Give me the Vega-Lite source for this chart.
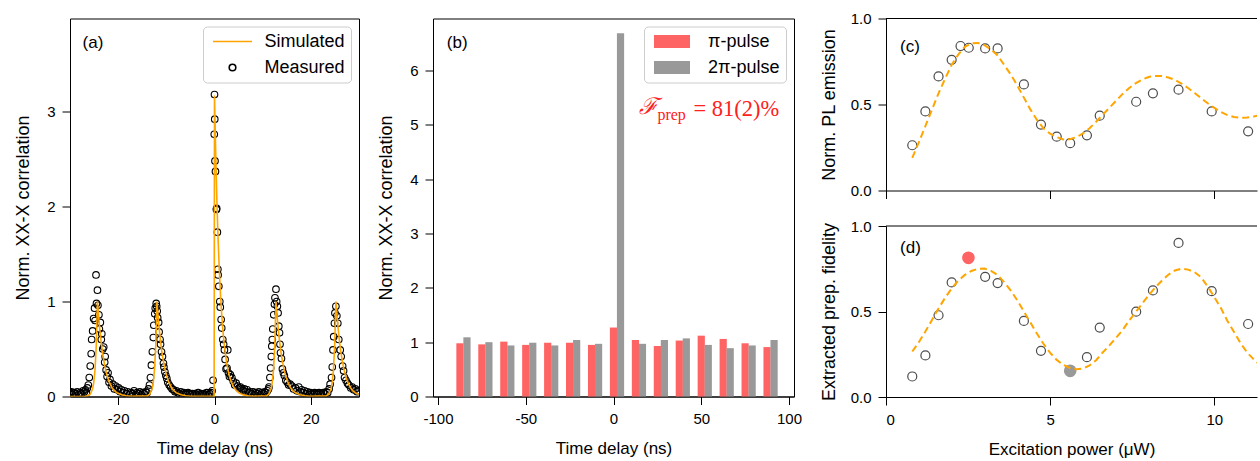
{
  "$schema": "https://vega.github.io/schema/vega-lite/v6.json",
  "padding": {"left": 14, "top": 11.5, "right": 0, "bottom": 0},
  "spacing": 17,
  "resolve": {"scale": {"color": "independent", "shape": "independent"}, "legend": {"color": "independent", "shape": "independent"}},
  "config": {
    "font": "Liberation Sans",
    "view": {"stroke": "black", "strokeWidth": 1},
    "axis": {"labelFont": "Liberation Sans", "titleFont": "Liberation Sans", "labelFontSize": 15, "titleFontSize": 17, "titleFontWeight": "normal", "labelColor": "black", "titleColor": "black", "tickColor": "black", "domainColor": "black", "tickSize": 8, "labelPadding": 7, "titlePadding": 14, "grid": false, "tickWidth": 1, "domainWidth": 1},
    "axisY": {"titleFontSize": 18},
    "legend": {"labelFont": "Liberation Sans", "labelFontSize": 18, "labelColor": "black"},
    "text": {"font": "Liberation Sans", "color": "black"}
  },
  "datasets": {
    "meas": [
      {"t":-30,"v":0.04},{"t":-29.7,"v":0.05},{"t":-29.4,"v":0.02},{"t":-29.1,"v":0.04},{"t":-28.8,"v":0.03},{"t":-28.5,"v":0.05},{"t":-28.2,"v":0.02},{"t":-27.9,"v":0.04},{"t":-27.6,"v":0.03},{"t":-27.3,"v":0.06},
      {"t":-27.0,"v":0.05},{"t":-26.8,"v":0.07},{"t":-26.6,"v":0.04},{"t":-26.4,"v":0.09},{"t":-26.2,"v":0.12},{"t":-26.0,"v":0.2},{"t":-25.8,"v":0.32},{"t":-25.6,"v":0.45},{"t":-25.5,"v":0.6},{"t":-25.3,"v":0.69},{"t":-25.1,"v":0.82},{"t":-24.9,"v":0.93},{"t":-24.8,"v":0.8},{"t":-24.6,"v":1.28},{"t":-24.5,"v":0.98},{"t":-24.3,"v":1.12},{"t":-24.2,"v":0.96},{"t":-24.0,"v":0.86},{"t":-23.9,"v":0.71},{"t":-23.7,"v":0.78},{"t":-23.5,"v":0.6},{"t":-23.4,"v":0.66},{"t":-23.2,"v":0.5},{"t":-23.0,"v":0.52},{"t":-22.8,"v":0.36},{"t":-22.7,"v":0.42},{"t":-22.5,"v":0.28},{"t":-22.3,"v":0.21},{"t":-22.1,"v":0.25},{"t":-21.9,"v":0.15},{"t":-21.7,"v":0.18},{"t":-21.4,"v":0.11},{"t":-21.1,"v":0.13},{"t":-20.8,"v":0.08},{"t":-20.5,"v":0.11},{"t":-20.2,"v":0.07},{"t":-19.9,"v":0.09},{"t":-19.6,"v":0.05},{"t":-19.3,"v":0.07},{"t":-19.0,"v":0.04},{"t":-18.7,"v":0.06},{"t":-18.3,"v":0.03},{"t":-18.0,"v":0.05},{"t":-17.6,"v":0.02},{"t":-17.3,"v":0.04},{"t":-17.0,"v":0.03},{"t":-16.7,"v":0.06},{"t":-16.4,"v":0.02},{"t":-16.1,"v":0.04},{"t":-15.8,"v":0.03},{"t":-15.5,"v":0.05},{"t":-15.2,"v":0.02},{"t":-14.9,"v":0.04},{"t":-14.6,"v":0.03},
      {"t":-14.3,"v":0.05},{"t":-14.0,"v":0.04},{"t":-13.7,"v":0.08},{"t":-13.5,"v":0.12},{"t":-13.3,"v":0.2},{"t":-13.1,"v":0.33},{"t":-12.9,"v":0.47},{"t":-12.7,"v":0.62},{"t":-12.6,"v":0.75},{"t":-12.4,"v":0.87},{"t":-12.3,"v":0.93},{"t":-12.1,"v":0.98},{"t":-12.0,"v":0.95},{"t":-11.9,"v":0.9},{"t":-11.8,"v":0.83},{"t":-11.6,"v":0.78},{"t":-11.5,"v":0.68},{"t":-11.3,"v":0.6},{"t":-11.2,"v":0.55},{"t":-11.0,"v":0.47},{"t":-10.8,"v":0.42},{"t":-10.6,"v":0.35},{"t":-10.5,"v":0.31},{"t":-10.3,"v":0.26},{"t":-10.1,"v":0.22},{"t":-9.9,"v":0.19},{"t":-9.7,"v":0.15},{"t":-9.4,"v":0.12},{"t":-9.1,"v":0.1},{"t":-8.8,"v":0.08},{"t":-8.5,"v":0.07},{"t":-8.2,"v":0.05},{"t":-7.9,"v":0.06},{"t":-7.6,"v":0.04},{"t":-7.3,"v":0.03},{"t":-7.0,"v":0.05},{"t":-6.7,"v":0.02},{"t":-6.4,"v":0.04},{"t":-6.1,"v":0.03},{"t":-5.8,"v":0.02},{"t":-5.5,"v":0.04},{"t":-5.2,"v":0.03},{"t":-4.9,"v":0.02},{"t":-4.6,"v":0.03},{"t":-4.3,"v":0.02},{"t":-4.0,"v":0.03},{"t":-3.7,"v":0.02},{"t":-3.4,"v":0.04},{"t":-3.1,"v":0.02},{"t":-2.8,"v":0.03},{"t":-2.5,"v":0.02},{"t":-2.2,"v":0.03},{"t":-1.9,"v":0.02},{"t":-1.6,"v":0.04},{"t":-1.3,"v":0.02},{"t":-1.0,"v":0.03},{"t":-0.7,"v":0.04},{"t":-0.5,"v":0.06},{"t":-0.3,"v":0.17},
      {"t":-0.05,"v":2.76},{"t":0.0,"v":3.18},{"t":0.05,"v":2.92},{"t":0.1,"v":2.48},{"t":0.2,"v":2.37},{"t":0.4,"v":1.97},{"t":0.45,"v":1.98},{"t":0.6,"v":1.73},{"t":0.7,"v":1.34},{"t":0.75,"v":1.28},{"t":0.9,"v":1.16},{"t":1.1,"v":1.0},{"t":1.2,"v":0.94},{"t":1.38,"v":0.81},{"t":1.5,"v":0.72},{"t":1.72,"v":0.6},{"t":1.9,"v":0.55},{"t":2.06,"v":0.49},{"t":2.2,"v":0.39},{"t":2.4,"v":0.29},{"t":2.6,"v":0.3},{"t":2.75,"v":0.49},{"t":2.9,"v":0.25},{"t":3.1,"v":0.21},{"t":3.3,"v":0.23},{"t":3.6,"v":0.2},{"t":3.9,"v":0.16},{"t":4.2,"v":0.12},{"t":4.5,"v":0.14},{"t":4.8,"v":0.11},{"t":5.1,"v":0.09},{"t":5.4,"v":0.1},{"t":5.7,"v":0.08},{"t":6.0,"v":0.06},{"t":6.2,"v":0.08},{"t":6.5,"v":0.05},{"t":6.8,"v":0.07},{"t":7.1,"v":0.04},{"t":7.4,"v":0.05},{"t":7.7,"v":0.03},{"t":8.0,"v":0.05},{"t":8.3,"v":0.02},{"t":8.6,"v":0.04},{"t":8.9,"v":0.03},{"t":9.2,"v":0.05},{"t":9.5,"v":0.02},{"t":9.8,"v":0.04},{"t":10.1,"v":0.03},{"t":10.4,"v":0.05},{"t":10.7,"v":0.04},
      {"t":11.0,"v":0.06},{"t":11.2,"v":0.08},{"t":11.3,"v":0.1},{"t":11.5,"v":0.2},{"t":11.65,"v":0.3},{"t":11.8,"v":0.42},{"t":11.9,"v":0.53},{"t":12.0,"v":0.6},{"t":12.1,"v":0.71},{"t":12.3,"v":0.86},{"t":12.45,"v":0.97},{"t":12.55,"v":1.04},{"t":12.76,"v":1.13},{"t":12.9,"v":1.0},{"t":13.05,"v":0.95},{"t":13.2,"v":0.88},{"t":13.35,"v":0.74},{"t":13.5,"v":0.67},{"t":13.6,"v":0.55},{"t":13.7,"v":0.46},{"t":13.9,"v":0.4},{"t":14.1,"v":0.29},{"t":14.3,"v":0.25},{"t":14.5,"v":0.22},{"t":14.8,"v":0.17},{"t":15.1,"v":0.15},{"t":15.4,"v":0.12},{"t":15.7,"v":0.13},{"t":16.1,"v":0.11},{"t":16.4,"v":0.08},{"t":16.8,"v":0.09},{"t":17.1,"v":0.06},{"t":17.5,"v":0.1},{"t":17.8,"v":0.05},{"t":18.1,"v":0.07},{"t":18.4,"v":0.04},{"t":18.7,"v":0.06},{"t":19.0,"v":0.03},{"t":19.3,"v":0.05},{"t":19.6,"v":0.02},{"t":19.9,"v":0.04},{"t":20.2,"v":0.03},{"t":20.5,"v":0.02},{"t":20.8,"v":0.04},{"t":21.1,"v":0.03},{"t":21.4,"v":0.02},{"t":21.7,"v":0.04},{"t":22.0,"v":0.03},{"t":22.3,"v":0.02},{"t":22.6,"v":0.04},{"t":22.9,"v":0.03},
      {"t":23.2,"v":0.05},{"t":23.5,"v":0.04},{"t":23.8,"v":0.08},{"t":24.0,"v":0.13},{"t":24.3,"v":0.2},{"t":24.45,"v":0.31},{"t":24.6,"v":0.49},{"t":24.75,"v":0.63},{"t":24.9,"v":0.77},{"t":25.0,"v":0.88},{"t":25.2,"v":0.95},{"t":25.4,"v":0.85},{"t":25.6,"v":0.77},{"t":25.8,"v":0.6},{"t":26.1,"v":0.49},{"t":26.3,"v":0.42},{"t":26.6,"v":0.32},{"t":26.8,"v":0.27},{"t":27.0,"v":0.2},{"t":27.3,"v":0.17},{"t":27.6,"v":0.14},{"t":27.9,"v":0.12},{"t":28.3,"v":0.09},{"t":28.6,"v":0.1},{"t":28.9,"v":0.07},{"t":29.3,"v":0.08},{"t":29.6,"v":0.05},{"t":29.9,"v":0.06}
    ],
    "sim": [
      {"t":-30,"v":0.0},{"t":-27,"v":0.0},{"t":-26.3,"v":0.007},{"t":-25.8,"v":0.024},{"t":-25.3,"v":0.082},{"t":-25.05,"v":0.153},{"t":-24.8,"v":0.287},{"t":-24.55,"v":0.535},{"t":-24.3,"v":1.0},{"t":-24.05,"v":0.84},{"t":-23.8,"v":0.7},{"t":-23.55,"v":0.58},{"t":-23.3,"v":0.48},{"t":-23.05,"v":0.4},{"t":-22.8,"v":0.33},{"t":-22.55,"v":0.27},{"t":-22.3,"v":0.22},{"t":-21.8,"v":0.145},{"t":-21.3,"v":0.095},{"t":-20.8,"v":0.062},{"t":-20.3,"v":0.041},{"t":-19.3,"v":0.018},{"t":-18.3,"v":0.008},{"t":-17.3,"v":0.003},
      {"t":-13.95,"v":0.007},{"t":-13.45,"v":0.024},{"t":-12.95,"v":0.082},{"t":-12.7,"v":0.153},{"t":-12.45,"v":0.287},{"t":-12.2,"v":0.535},{"t":-11.95,"v":1.0},{"t":-11.7,"v":0.84},{"t":-11.45,"v":0.7},{"t":-11.2,"v":0.58},{"t":-10.95,"v":0.48},{"t":-10.7,"v":0.4},{"t":-10.45,"v":0.33},{"t":-10.2,"v":0.27},{"t":-9.95,"v":0.22},{"t":-9.45,"v":0.145},{"t":-8.95,"v":0.095},{"t":-8.45,"v":0.062},{"t":-7.95,"v":0.041},{"t":-6.95,"v":0.018},{"t":-5.95,"v":0.008},{"t":-4.95,"v":0.003},{"t":-0.08,"v":0.002},
      {"t":0,"v":3.17},{"t":0.25,"v":2.56},{"t":0.5,"v":2.05},{"t":0.75,"v":1.65},{"t":1.0,"v":1.33},{"t":1.25,"v":1.07},{"t":1.5,"v":0.86},{"t":1.75,"v":0.69},{"t":2.0,"v":0.557},{"t":2.5,"v":0.36},{"t":3.0,"v":0.234},{"t":3.5,"v":0.151},{"t":4.0,"v":0.098},{"t":4.5,"v":0.063},{"t":5.0,"v":0.041},{"t":6.0,"v":0.017},{"t":7.0,"v":0.007},{"t":8.0,"v":0.003},
      {"t":10.76,"v":0.007},{"t":11.26,"v":0.024},{"t":11.76,"v":0.082},{"t":12.01,"v":0.153},{"t":12.26,"v":0.287},{"t":12.51,"v":0.535},{"t":12.76,"v":1.0},{"t":13.01,"v":0.84},{"t":13.26,"v":0.7},{"t":13.51,"v":0.58},{"t":13.76,"v":0.48},{"t":14.01,"v":0.4},{"t":14.26,"v":0.33},{"t":14.51,"v":0.27},{"t":14.76,"v":0.22},{"t":15.26,"v":0.145},{"t":15.76,"v":0.095},{"t":16.26,"v":0.062},{"t":16.76,"v":0.041},{"t":17.76,"v":0.018},{"t":18.76,"v":0.008},{"t":19.76,"v":0.003},
      {"t":23.2,"v":0.007},{"t":23.7,"v":0.024},{"t":24.2,"v":0.082},{"t":24.45,"v":0.153},{"t":24.7,"v":0.287},{"t":24.95,"v":0.535},{"t":25.2,"v":1.0},{"t":25.45,"v":0.84},{"t":25.7,"v":0.7},{"t":25.95,"v":0.58},{"t":26.2,"v":0.48},{"t":26.45,"v":0.4},{"t":26.7,"v":0.33},{"t":26.95,"v":0.27},{"t":27.2,"v":0.22},{"t":27.7,"v":0.145},{"t":28.2,"v":0.095},{"t":28.7,"v":0.062},{"t":29.2,"v":0.041},{"t":30,"v":0.02}
    ],
    "bars": [
      {"delay":-87.5,"pulse":"π-pulse","value":0.98},{"delay":-83.5,"pulse":"2π-pulse","value":1.09},
      {"delay":-75,"pulse":"π-pulse","value":0.96},{"delay":-71,"pulse":"2π-pulse","value":1.0},
      {"delay":-62.5,"pulse":"π-pulse","value":1.01},{"delay":-58.5,"pulse":"2π-pulse","value":0.94},
      {"delay":-50,"pulse":"π-pulse","value":0.95},{"delay":-46,"pulse":"2π-pulse","value":0.99},
      {"delay":-37.5,"pulse":"π-pulse","value":0.99},{"delay":-33.5,"pulse":"2π-pulse","value":0.94},
      {"delay":-25,"pulse":"π-pulse","value":0.99},{"delay":-21,"pulse":"2π-pulse","value":1.04},
      {"delay":-12.5,"pulse":"π-pulse","value":0.95},{"delay":-8.5,"pulse":"2π-pulse","value":0.97},
      {"delay":0,"pulse":"π-pulse","value":1.27},{"delay":4,"pulse":"2π-pulse","value":6.69},
      {"delay":12.5,"pulse":"π-pulse","value":1.04},{"delay":16.5,"pulse":"2π-pulse","value":0.97},
      {"delay":25,"pulse":"π-pulse","value":0.93},{"delay":29,"pulse":"2π-pulse","value":1.04},
      {"delay":37.5,"pulse":"π-pulse","value":1.03},{"delay":41.5,"pulse":"2π-pulse","value":1.07},
      {"delay":50,"pulse":"π-pulse","value":1.12},{"delay":54,"pulse":"2π-pulse","value":0.95},
      {"delay":62.5,"pulse":"π-pulse","value":1.06},{"delay":66.5,"pulse":"2π-pulse","value":0.89},
      {"delay":75,"pulse":"π-pulse","value":0.98},{"delay":79,"pulse":"2π-pulse","value":0.94},
      {"delay":87.5,"pulse":"π-pulse","value":0.91},{"delay":91.5,"pulse":"2π-pulse","value":1.04}
    ],
    "pl": [
      {"p":0.8,"v":0.263},{"p":1.2,"v":0.46},{"p":1.6,"v":0.663},{"p":2.0,"v":0.76},{"p":2.27,"v":0.84},{"p":2.52,"v":0.83},{"p":3.02,"v":0.826},{"p":3.4,"v":0.826},{"p":4.2,"v":0.617},{"p":4.72,"v":0.383},{"p":5.2,"v":0.313},{"p":5.61,"v":0.275},{"p":6.12,"v":0.321},{"p":6.51,"v":0.435},{"p":7.62,"v":0.516},{"p":8.13,"v":0.565},{"p":8.91,"v":0.586},{"p":9.92,"v":0.46},{"p":11.03,"v":0.344}
    ],
    "plfit": [
      {"p":0.8,"v":0.19},{"p":1.0,"v":0.28},{"p":1.2,"v":0.375},{"p":1.4,"v":0.47},{"p":1.6,"v":0.565},{"p":1.8,"v":0.65},{"p":2.0,"v":0.73},{"p":2.2,"v":0.79},{"p":2.4,"v":0.835},{"p":2.6,"v":0.855},{"p":2.8,"v":0.858},{"p":3.0,"v":0.845},{"p":3.2,"v":0.82},{"p":3.4,"v":0.785},{"p":3.6,"v":0.73},{"p":3.8,"v":0.675},{"p":4.0,"v":0.61},{"p":4.2,"v":0.54},{"p":4.4,"v":0.47},{"p":4.6,"v":0.41},{"p":4.8,"v":0.36},{"p":5.0,"v":0.33},{"p":5.2,"v":0.31},{"p":5.4,"v":0.297},{"p":5.6,"v":0.298},{"p":5.8,"v":0.31},{"p":6.0,"v":0.332},{"p":6.2,"v":0.362},{"p":6.4,"v":0.4},{"p":6.6,"v":0.44},{"p":6.8,"v":0.48},{"p":7.0,"v":0.52},{"p":7.2,"v":0.56},{"p":7.4,"v":0.595},{"p":7.6,"v":0.623},{"p":7.8,"v":0.645},{"p":8.0,"v":0.66},{"p":8.2,"v":0.666},{"p":8.4,"v":0.665},{"p":8.6,"v":0.657},{"p":8.8,"v":0.643},{"p":9.0,"v":0.622},{"p":9.2,"v":0.596},{"p":9.4,"v":0.567},{"p":9.6,"v":0.537},{"p":9.8,"v":0.507},{"p":10.0,"v":0.48},{"p":10.2,"v":0.456},{"p":10.4,"v":0.438},{"p":10.6,"v":0.427},{"p":10.8,"v":0.423},{"p":11.0,"v":0.424},{"p":11.2,"v":0.43},{"p":11.4,"v":0.44}
    ],
    "fid": [
      {"p":0.8,"v":0.12},{"p":1.2,"v":0.243},{"p":1.6,"v":0.478},{"p":2.0,"v":0.67},{"p":3.02,"v":0.703},{"p":3.4,"v":0.666},{"p":4.2,"v":0.445},{"p":4.72,"v":0.27},{"p":6.12,"v":0.233},{"p":6.51,"v":0.406},{"p":7.62,"v":0.499},{"p":8.13,"v":0.623},{"p":8.91,"v":0.901},{"p":9.92,"v":0.619},{"p":11.03,"v":0.427}
    ],
    "fidsel": [
      {"p":2.51,"v":0.814,"pulse":"π-pulse"},{"p":5.61,"v":0.153,"pulse":"2π-pulse"}
    ],
    "fidfit": [
      {"p":0.8,"v":0.266},{"p":1.0,"v":0.32},{"p":1.2,"v":0.383},{"p":1.4,"v":0.45},{"p":1.6,"v":0.518},{"p":1.8,"v":0.58},{"p":2.0,"v":0.635},{"p":2.2,"v":0.68},{"p":2.4,"v":0.714},{"p":2.6,"v":0.737},{"p":2.8,"v":0.75},{"p":3.0,"v":0.751},{"p":3.2,"v":0.738},{"p":3.4,"v":0.713},{"p":3.6,"v":0.672},{"p":3.8,"v":0.622},{"p":4.0,"v":0.565},{"p":4.2,"v":0.5},{"p":4.4,"v":0.435},{"p":4.6,"v":0.37},{"p":4.8,"v":0.31},{"p":5.0,"v":0.258},{"p":5.2,"v":0.217},{"p":5.4,"v":0.188},{"p":5.6,"v":0.17},{"p":5.8,"v":0.163},{"p":6.0,"v":0.165},{"p":6.2,"v":0.185},{"p":6.4,"v":0.215},{"p":6.6,"v":0.26},{"p":6.8,"v":0.3},{"p":7.0,"v":0.345},{"p":7.2,"v":0.39},{"p":7.4,"v":0.445},{"p":7.6,"v":0.495},{"p":7.8,"v":0.545},{"p":8.0,"v":0.595},{"p":8.2,"v":0.64},{"p":8.4,"v":0.68},{"p":8.6,"v":0.715},{"p":8.8,"v":0.74},{"p":9.0,"v":0.751},{"p":9.2,"v":0.745},{"p":9.4,"v":0.73},{"p":9.6,"v":0.7},{"p":9.8,"v":0.645},{"p":10.0,"v":0.585},{"p":10.2,"v":0.52},{"p":10.4,"v":0.445},{"p":10.6,"v":0.38},{"p":10.8,"v":0.315},{"p":11.0,"v":0.26},{"p":11.2,"v":0.22},{"p":11.4,"v":0.185}
    ]
  },
  "hconcat": [
    {
      "width": 289,
      "height": 378,
      "layer": [
        {
          "data": {"name": "meas"},
          "mark": {"type": "point", "filled": false, "strokeWidth": 1.1, "size": 100, "clip": true, "opacity": 1},
          "encoding": {
            "x": {"field": "t", "type": "quantitative", "scale": {"domain": [-30, 30], "nice": false, "zero": false}, "axis": {"values": [-20, 0, 20], "format": "d", "title": "Time delay (ns)", "labelExpr": "replace(datum.label, '−', '-')"}},
            "y": {"field": "v", "type": "quantitative", "scale": {"domain": [0, 3.98], "nice": false}, "axis": {"values": [0, 1, 2, 3], "format": "d", "title": "Norm. XX-X correlation"}},
            "color": {"datum": "Measured", "type": "nominal", "scale": {"domain": ["Simulated", "Measured"], "range": ["#ffa500", "#000000"]},
              "legend": {"title": null, "orient": "top-right", "offset": 8, "symbolSize": 100, "symbolOffset": 14.5, "symbolStrokeWidth": 1.6, "rowPadding": 8, "padding": 6, "labelOffset": 23, "fillColor": "rgba(255,255,255,0.85)", "strokeColor": "#cccccc", "cornerRadius": 4, "symbolFillColor": "transparent"}},
            "shape": {"datum": "Measured", "type": "nominal", "scale": {"domain": ["Simulated", "Measured"], "range": ["M-3.9,0H3.9", "M0.66,0A0.66,0.66,0,1,1,-0.66,0A0.66,0.66,0,1,1,0.66,0Z"]},
              "legend": {"title": null, "orient": "top-right", "offset": 8, "symbolSize": 100, "symbolOffset": 14.5, "symbolStrokeWidth": 1.6, "rowPadding": 8, "padding": 6, "labelOffset": 23, "fillColor": "rgba(255,255,255,0.85)", "strokeColor": "#cccccc", "cornerRadius": 4, "symbolFillColor": "transparent"}}
          }
        },
        {
          "data": {"name": "sim"},
          "mark": {"type": "line", "color": "#ffa500", "strokeWidth": 1.6, "clip": true},
          "encoding": {
            "x": {"field": "t", "type": "quantitative"},
            "y": {"field": "v", "type": "quantitative"}
          }
        },
        {
          "data": {"values": [{}]},
          "mark": {"type": "text", "align": "left", "baseline": "middle", "fontSize": 17},
          "encoding": {"x": {"datum": -27.4}, "y": {"datum": 3.72}, "text": {"value": "(a)"}}
        }
      ]
    },
    {
      "width": 361,
      "height": 378,
      "layer": [
        {
          "data": {"name": "bars"},
          "mark": {"type": "bar", "width": 7.2},
          "encoding": {
            "x": {"field": "delay", "type": "quantitative", "scale": {"domain": [-100, 100], "nice": false, "zero": false}, "axis": {"values": [-100, -50, 0, 50, 100], "format": "d", "title": "Time delay (ns)", "labelExpr": "replace(datum.label, '−', '-')"}},
            "y": {"field": "value", "type": "quantitative", "stack": null, "scale": {"domain": [0, 6.96], "nice": false}, "axis": {"values": [0, 1, 2, 3, 4, 5, 6], "format": "d", "title": "Norm. XX-X correlation"}},
            "color": {"field": "pulse", "type": "nominal", "scale": {"domain": ["π-pulse", "2π-pulse"], "range": ["#ff6464", "#999999"]},
              "legend": {"title": null, "orient": "top-right", "offset": 8, "symbolType": "M-3.6,-1.3H3.6V1.3H-3.6Z", "symbolSize": 100, "symbolOffset": 13, "rowPadding": 8, "padding": 6, "labelOffset": 27, "fillColor": "rgba(255,255,255,0.85)", "strokeColor": "#cccccc", "cornerRadius": 4}}
          }
        },
        {
          "data": {"values": [{}]},
          "mark": {"type": "text", "align": "left", "baseline": "middle", "fontSize": 17},
          "encoding": {"x": {"datum": -95}, "y": {"datum": 6.5}, "text": {"value": "(b)"}}
        },
        {
          "data": {"values": [{}]},
          "mark": {"type": "text", "align": "center", "baseline": "alphabetic", "fontSize": 23, "font": "DejaVu Serif", "fontStyle": "italic", "color": "#ff2020"},
          "encoding": {"x": {"datum": 20}, "y": {"datum": 5.2}, "text": {"value": "ℱ"}}
        },
        {
          "data": {"values": [{}]},
          "mark": {"type": "text", "align": "left", "baseline": "alphabetic", "fontSize": 16, "font": "Liberation Serif", "color": "#ff2020"},
          "encoding": {"x": {"datum": 25}, "y": {"datum": 5.09}, "text": {"value": "prep"}}
        },
        {
          "data": {"values": [{}]},
          "mark": {"type": "text", "align": "right", "baseline": "alphabetic", "fontSize": 22.5, "font": "Liberation Serif", "color": "#ff2020"},
          "encoding": {"x": {"datum": 94.5}, "y": {"datum": 5.17}, "text": {"value": "= 81(2)%"}}
        }
      ]
    },
    {
      "spacing": 19.5,
      "vconcat": [
        {
          "width": 371,
          "height": 172,
          "view": {"stroke": null},
          "layer": [
            {
              "data": {"name": "pl"},
              "mark": {"type": "point", "filled": false, "size": 81, "strokeWidth": 1.2, "color": "black", "clip": true},
              "encoding": {
                "x": {"field": "p", "type": "quantitative", "scale": {"domain": [0, 11.3], "nice": false}, "axis": {"values": [0, 5, 10], "labels": false, "title": null}},
                "y": {"field": "v", "type": "quantitative", "scale": {"domain": [0, 1], "nice": false}, "axis": {"values": [0, 0.5, 1], "format": ".1f", "title": "Norm. PL emission", "titlePadding": 12}}
              }
            },
            {
              "data": {"name": "plfit"},
              "mark": {"type": "line", "color": "#ffa500", "strokeWidth": 2, "strokeDash": [7, 4], "clip": true},
              "encoding": {
                "x": {"field": "p", "type": "quantitative"},
                "y": {"field": "v", "type": "quantitative"}
              }
            },
            {
              "data": {"values": [{}]},
              "mark": {"type": "rule", "color": "black", "strokeWidth": 1},
              "encoding": {"y": {"datum": 1}}
            },
            {
              "data": {"values": [{}]},
              "mark": {"type": "text", "align": "left", "baseline": "middle", "fontSize": 17},
              "encoding": {"x": {"datum": 0.43}, "y": {"datum": 0.837}, "text": {"value": "(c)"}}
            }
          ]
        },
        {
          "width": 371,
          "height": 171,
          "view": {"stroke": null},
          "layer": [
            {
              "data": {"name": "fid"},
              "mark": {"type": "point", "filled": false, "size": 81, "strokeWidth": 1.2, "color": "black", "clip": true},
              "encoding": {
                "x": {"field": "p", "type": "quantitative", "scale": {"domain": [0, 11.3], "nice": false}, "axis": {"values": [0, 5, 10], "format": "d", "title": "Excitation power (μW)"}},
                "y": {"field": "v", "type": "quantitative", "scale": {"domain": [0, 1], "nice": false}, "axis": {"values": [0, 0.5, 1], "format": ".1f", "title": "Extracted prep. fidelity", "titlePadding": 12}}
              }
            },
            {
              "data": {"name": "fidsel"},
              "mark": {"type": "point", "filled": true, "size": 160, "opacity": 1, "clip": true},
              "encoding": {
                "x": {"field": "p", "type": "quantitative"},
                "y": {"field": "v", "type": "quantitative"},
                "color": {"field": "pulse", "type": "nominal", "scale": {"domain": ["π-pulse", "2π-pulse"], "range": ["#ff6464", "#999999"]}, "legend": null}
              }
            },
            {
              "data": {"name": "fidfit"},
              "mark": {"type": "line", "color": "#ffa500", "strokeWidth": 2, "strokeDash": [7, 4], "clip": true},
              "encoding": {
                "x": {"field": "p", "type": "quantitative"},
                "y": {"field": "v", "type": "quantitative"}
              }
            },
            {
              "data": {"values": [{}]},
              "mark": {"type": "rule", "color": "black", "strokeWidth": 1},
              "encoding": {"y": {"datum": 1}}
            },
            {
              "data": {"values": [{}]},
              "mark": {"type": "text", "align": "left", "baseline": "middle", "fontSize": 17},
              "encoding": {"x": {"datum": 0.43}, "y": {"datum": 0.87}, "text": {"value": "(d)"}}
            }
          ]
        }
      ]
    }
  ]
}
